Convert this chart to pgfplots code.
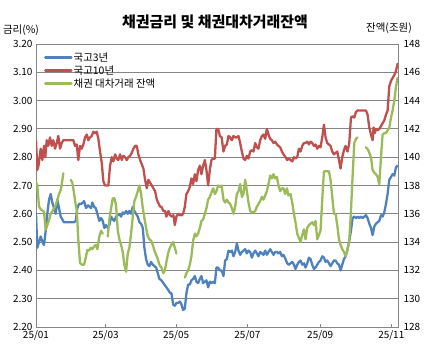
\documentclass[border=0pt]{standalone}
\usepackage{fontspec}
\setmainfont{Noto Sans CJK KR}
\usepackage{pgfplots}
\pgfplotsset{compat=1.18}
\definecolor{cblue}{HTML}{4F81BD}
\definecolor{cred}{HTML}{C0504D}
\definecolor{cgreen}{HTML}{9BBB59}
\definecolor{cgrid}{HTML}{868686}
\begin{document}
\begin{tikzpicture}
\path[use as bounding box] (-36bp,-30bp) rectangle (394bp,327bp);
\pgfplotsset{
  base/.style={
    at={(0,0)}, anchor=south west,
    scale only axis, width=362bp, height=283bp,
    xmin=36, xmax=397.7,
    unbounded coords=jump,
    /pgf/number format/assume math mode=true,
    ticklabel style={font=\fontsize{10}{11}\selectfont},
    axis line style={cgrid, line width=0.8pt},
    every tick/.style={cgrid, line width=0.8pt},
  },
  ser/.style={line width=2.3pt, line join=round, line cap=round, mark=none},
}
\begin{axis}[base,
  ymin=2.2, ymax=3.2,
  ytick={2.2,2.3,2.4,2.5,2.6,2.7,2.8,2.9,3.0,3.1,3.2},
  yticklabel style={/pgf/number format/.cd, fixed, fixed zerofill, precision=2},
  ytick pos=left, xtick pos=bottom,
  tick align=inside,
  y tick style={draw=none},
  major tick length=3bp,
  xtick={36,105.5,176,247.3,320,391},
  xticklabels={25/01,25/03,25/05,25/07,25/09,25/11},
  ymajorgrids, grid style={cgrid, line width=0.8pt},
  legend style={at={(0.022,0.975)}, anchor=north west, draw=none, fill=none,
    font=\fontsize{10.5}{11}\selectfont, inner sep=0pt, row sep=0.5bp,
    nodes={inner sep=1.2bp}},
  legend cell align=left,
  legend image code/.code={\draw[#1] (0bp,0bp) -- (26bp,0bp);},
]
\addplot[ser, cblue] coordinates {
(36,2.60) (37.3,2.48) (39,2.50) (40.7,2.52) (42.5,2.50) (44,2.49) (45.7,2.54) (47.3,2.60) (49,2.65) (50.7,2.67)
(52.3,2.64) (54,2.62) (55.7,2.60) (57.3,2.65) (59,2.62) (60.7,2.59) (62.3,2.58) (64,2.57) (67,2.57) (70.7,2.57)
(74,2.57) (75.7,2.575) (77.3,2.62) (79,2.635) (81,2.635) (83,2.64) (84,2.645) (86,2.62) (88,2.63) (89.5,2.625)
(91,2.62) (92.3,2.64) (94,2.625) (95.7,2.62) (97.3,2.60) (99.3,2.575) (101,2.585) (102.7,2.575) (104.3,2.55) (106,2.56)
(107.7,2.55) (109.3,2.56) (111,2.59) (112.7,2.58) (114.3,2.575) (116,2.59) (117.7,2.595) (119.3,2.60) (121,2.59) (122.7,2.605)
(124.3,2.60) (126,2.61) (127.7,2.60) (129.3,2.61) (131,2.60) (132.7,2.625) (134.3,2.61) (136,2.60) (137.7,2.59) (139.3,2.57)
(141,2.565) (142.7,2.55) (144.3,2.48) (146,2.44) (147.7,2.42) (149.3,2.415) (151,2.43) (152.7,2.42) (154.3,2.415) (156,2.41)
(157.7,2.39) (159.3,2.37) (161.3,2.365) (163.3,2.355) (166.3,2.34) (168.3,2.33) (170,2.32) (171.3,2.32) (173,2.28) (174.7,2.275)
(176.3,2.285) (178,2.285) (179.7,2.29) (181.3,2.28) (183,2.26) (184.7,2.265) (186.3,2.32) (188,2.35) (189.7,2.35) (191.3,2.365)
(193,2.37) (194.7,2.38) (196.3,2.36) (198,2.355) (199.7,2.37) (201.3,2.38) (203,2.355) (204.7,2.36) (206.3,2.365) (208,2.34)
(209.7,2.36) (211.3,2.355) (213,2.36) (214.7,2.355) (216.3,2.41) (218,2.41) (219.7,2.40) (221.5,2.40) (223.3,2.38) (225,2.435)
(226.7,2.44) (228.3,2.47) (230,2.465) (231.7,2.47) (233.3,2.45) (235,2.465) (236.7,2.495) (238.3,2.47) (240,2.455) (241.7,2.465)
(243.3,2.47) (245,2.475) (246.7,2.46) (248.3,2.47) (250,2.465) (251.7,2.445) (253.3,2.46) (255,2.47) (256.7,2.46) (258.3,2.45)
(260,2.465) (261.7,2.46) (263.3,2.455) (265,2.47) (266.7,2.455) (268.3,2.465) (270,2.475) (271.7,2.465) (273.3,2.455) (275,2.465)
(276.7,2.465) (278.3,2.46) (280,2.465) (281.7,2.45) (283.3,2.455) (285.3,2.44) (287,2.425) (288.7,2.42) (290.3,2.425) (292,2.43)
(293.7,2.42) (295.3,2.405) (297,2.42) (298.7,2.43) (300.3,2.435) (302,2.42) (303.7,2.425) (305.3,2.41) (307,2.425) (308.7,2.445)
(310.3,2.44) (312,2.42) (313.7,2.405) (315.3,2.41) (317,2.42) (318.7,2.43) (320.3,2.435) (322,2.45) (323.7,2.445) (325.3,2.43)
(327,2.435) (328.7,2.425) (330.3,2.415) (332,2.425) (333.7,2.435) (335.3,2.435) (337,2.425) (338.7,2.42) (340.3,2.40) (342,2.42)
(343.7,2.44) (345.3,2.45) (347,2.47) (349,2.505) (350.7,2.54) (352.3,2.585) (354,2.59) (355.7,2.585) (357.3,2.59) (359,2.585)
(360.7,2.59) (362.3,2.585) (364,2.59) (365.7,2.595) (367.3,2.585) (369,2.565) (370.7,2.55) (372.3,2.525) (374,2.555) (375.7,2.565)
(377.3,2.57) (379,2.575) (380.7,2.595) (382.3,2.59) (384,2.605) (385.7,2.635) (387.3,2.67) (389,2.72) (390.7,2.73) (392.3,2.74)
(394,2.735) (395.7,2.765) (397.3,2.77)
};
\addlegendentry{국고3년}
\addplot[ser, cred] coordinates {
(36,2.86) (37.3,2.755) (38.5,2.77) (40.7,2.83) (42.3,2.79) (44,2.84) (45.3,2.80) (46.7,2.86) (48.3,2.84) (50,2.87)
(51.7,2.84) (53.3,2.86) (55,2.83) (56.7,2.85) (58.3,2.875) (60,2.83) (61.7,2.85) (63.3,2.86) (66.7,2.86) (70,2.86)
(73.3,2.86) (75,2.84) (76.7,2.845) (78.3,2.79) (80,2.84) (81.7,2.83) (83.3,2.845) (85,2.87) (86.7,2.88) (88.3,2.86)
(90,2.87) (91.7,2.875) (93.3,2.89) (95,2.885) (96.7,2.89) (98.3,2.865) (100,2.82) (101.7,2.78) (103.3,2.715) (105,2.70)
(106.7,2.70) (108.3,2.70) (110,2.77) (111.7,2.80) (113.3,2.785) (115,2.81) (116.7,2.795) (118.3,2.79) (120,2.81) (121.7,2.79)
(123.3,2.805) (125,2.80) (126.7,2.79) (128.3,2.80) (130,2.805) (131.7,2.815) (133.3,2.83) (135,2.84) (136.7,2.84) (138.3,2.81)
(140,2.79) (141.7,2.775) (143.3,2.76) (145,2.72) (146.7,2.69) (148.3,2.72) (150,2.71) (151.7,2.70) (153.3,2.69) (155,2.68)
(156.7,2.65) (158,2.64) (160,2.625) (161.3,2.625) (163.3,2.61) (165,2.61) (166.3,2.59) (168.3,2.61) (170,2.595) (171.7,2.59)
(173.3,2.595) (174.7,2.56) (176.3,2.59) (178,2.60) (180,2.595) (181.7,2.595) (183,2.60) (184.7,2.625) (186.3,2.67) (188,2.68)
(189.7,2.695) (191.3,2.725) (193,2.705) (194.7,2.74) (196.3,2.715) (198,2.755) (199.7,2.77) (201.3,2.74) (203,2.77) (204.7,2.79)
(206.3,2.755) (208,2.70) (209.7,2.755) (211.3,2.79) (213,2.795) (214.7,2.795) (216.3,2.90) (218,2.90) (219.7,2.875) (221.5,2.87)
(223.3,2.82) (225,2.84) (226.7,2.845) (228.3,2.875) (230,2.87) (231.7,2.86) (233.3,2.875) (235,2.87) (236.7,2.87) (238.3,2.875)
(240,2.85) (241.7,2.82) (243.3,2.795) (245,2.79) (246.7,2.805) (248.3,2.795) (250,2.82) (251.7,2.825) (253.3,2.82) (255,2.85)
(256.7,2.835) (258.3,2.83) (260,2.86) (261.7,2.875) (263.3,2.88) (265,2.865) (266.7,2.90) (268.3,2.88) (270,2.865) (271.7,2.86)
(273.3,2.85) (275,2.855) (276.7,2.845) (278.3,2.84) (280,2.835) (281.7,2.82) (283.3,2.81) (285.3,2.80) (287,2.79) (288.7,2.795)
(290.3,2.79) (292,2.785) (293.7,2.80) (295.3,2.795) (297,2.80) (298.7,2.83) (300.3,2.82) (302,2.84) (303.7,2.85) (305.3,2.85)
(307,2.855) (308.7,2.845) (310.3,2.855) (312,2.85) (313.7,2.84) (315.3,2.845) (317,2.83) (318.7,2.84) (320.3,2.835) (322,2.87)
(323.7,2.915) (325.3,2.87) (327,2.85) (328.7,2.845) (330.3,2.84) (332,2.82) (333.7,2.81) (335.3,2.815) (337,2.82) (338.7,2.79)
(340.3,2.76) (342,2.80) (343.7,2.825) (345.3,2.84) (347.3,2.82) (349,2.85) (350.7,2.94) (352.3,2.945) (354,2.94) (355.7,2.96)
(357.3,2.965) (360.7,2.965) (364,2.965) (365.7,2.965) (367.3,2.95) (369,2.905) (370.7,2.88) (372.3,2.86) (373.3,2.905) (374.5,2.885)
(375.7,2.90) (377.3,2.895) (379,2.90) (380.7,2.91) (382.3,2.92) (384,2.93) (385.7,2.95) (387.3,2.965) (389,3.05) (390.7,3.07)
(392.3,3.08) (394,3.09) (395.7,3.105) (397.3,3.13)
};
\addlegendentry{국고10년}
\addlegendimage{ser, cgreen}
\addlegendentry{채권 대차거래 잔액}
\end{axis}
\begin{axis}[base,
  ymin=128, ymax=148,
  ytick={128,130,...,148},
  axis y line*=right, axis x line=none,
  y tick style={draw=none},
  yticklabel style={xshift=2bp},
]
\addplot[ser, cgreen] coordinates {
(36,138.26) (37.3,138.0) (39,136.5) (41,136.3) (44,136.14) (45.7,134.86) (47.3,135.2) (49,135.56) (50.7,136.0) (52,136.14)
(54,136.4) (55.7,136.6) (57.3,136.98) (59,137.4) (60.7,137.68) (62,138.2) (63.3,138.86) (66,nan)
(70.7,138.4) (72.3,138.2) (74,137.46) (75.3,136.8) (76.7,136.26) (78.3,134.14) (80,132.52) (82,132.4) (84,132.4) (85.7,132.9)
(87.3,133.44) (89,133.4) (90.7,133.6) (92.3,133.5) (94,133.7) (95.7,133.8) (97.3,133.5) (99.3,134.4) (101,134.8) (102.7,134.6) (105,nan)
(107.7,134.4) (109.3,135.6) (111,136.4) (112.7,137.1) (114.3,137.1) (116,136.6) (117.7,134.8) (119.3,134.2) (121,133.8) (122.7,133.3)
(124.3,132.4) (126,131.9) (127.7,133.2) (129.3,133.6) (131,134.6) (132.7,135.8) (134.3,136.9) (136,137.2) (137.7,137.6) (139.3,138.0)
(141,137.4) (142.7,136.4) (144.3,135.7) (146,135.0) (147.7,134.4) (149.3,134.2) (151,134.1) (152.7,133.8) (154.3,133.4) (156,133.1)
(157.7,132.8) (159.3,132.4) (161.3,132.2) (163.3,131.8) (164.7,132.0) (166.3,132.6) (168,133.2) (169.7,133.6) (171.3,133.8) (173,134.0)
(174.7,133.6) (176.3,133.2) (180,nan)
(184.7,131.5) (186.3,131.8) (188,132.0) (189.7,132.4) (191.3,133.0) (193,134.1) (194.7,134.6) (196.3,134.4) (198,134.6) (199.7,135.0)
(201.3,135.5) (203,135.6) (204.7,136.0) (206.3,136.4) (208,137.0) (209.7,137.2) (211.3,137.5) (213,137.8) (214.7,137.4) (216.3,137.6)
(218,138.0) (219.7,137.9) (221.5,138.0) (223.3,137.0) (225,136.8) (226.7,137.0) (228.3,136.8) (230,136.7) (231.7,136.4) (233.3,136.0)
(235,136.5) (236.7,137.4) (238.3,137.6) (240,138.1) (241.7,137.2) (243.3,137.4) (245,138.4) (246.7,137.6) (248.3,136.8) (250,136.2)
(251.7,136.1) (253.3,136.1) (255,136.2) (256.7,136.5) (258.3,136.7) (260,136.9) (261.7,137.2) (263.3,137.0) (265,137.3) (266.7,137.6)
(268.3,138.1) (270,138.7) (271.7,138.5) (273.3,138.8) (275,138.5) (276.7,138.6) (278.3,138.0) (280,137.6) (281.7,137.8) (283.3,137.8)
(285,137.4) (286.7,137.8) (288.3,137.3) (290.3,137.4) (292,136.8) (293.7,136.0) (295.3,135.4) (297,134.6) (298.7,134.3) (300.3,134.0)
(302,134.5) (303.7,134.9) (305.3,134.2) (307,135.0) (308.7,135.2) (310.3,135.3) (312,135.4) (313.7,135.2) (315.3,135.5) (317,134.2)
(318.7,134.5) (320.3,134.8) (322,137.0) (323.7,139.0) (326,139.0) (328.7,139.0) (330.3,138.4) (332,137.2) (333.7,136.0) (335.3,136.0)
(337,135.2) (338.7,134.2) (340.3,133.8) (342,133.5) (343.7,133.3) (345.3,133.0) (347,133.4) (349,134.1) (350.7,136.2) (352.3,138.6)
(354,141.0) (355.7,141.3) (357.3,141.4) (361,nan)
(365.7,140.7) (368,140.5) (370.7,140.0) (372.3,139.1) (374,138.9) (375.7,138.8) (377.3,138.6) (379,138.1) (380.7,140.0) (382.3,141.6)
(384,141.7) (385.7,141.7) (387.3,141.9) (389,142.1) (390.7,142.8) (392.3,143.3) (394,144.0) (395.7,145.0) (397.3,145.6)
};
\end{axis}
\node[font=\bfseries\fontsize{15}{16}\selectfont] at (179bp,305bp) {채권금리 및 채권대차거래잔액};
\node[font=\fontsize{10.5}{11}\selectfont] at (-15bp,297bp) {금리(\%)};
\node[font=\fontsize{10.5}{11}\selectfont] at (353bp,299bp) {잔액(조원)};
\end{tikzpicture}
\end{document}
